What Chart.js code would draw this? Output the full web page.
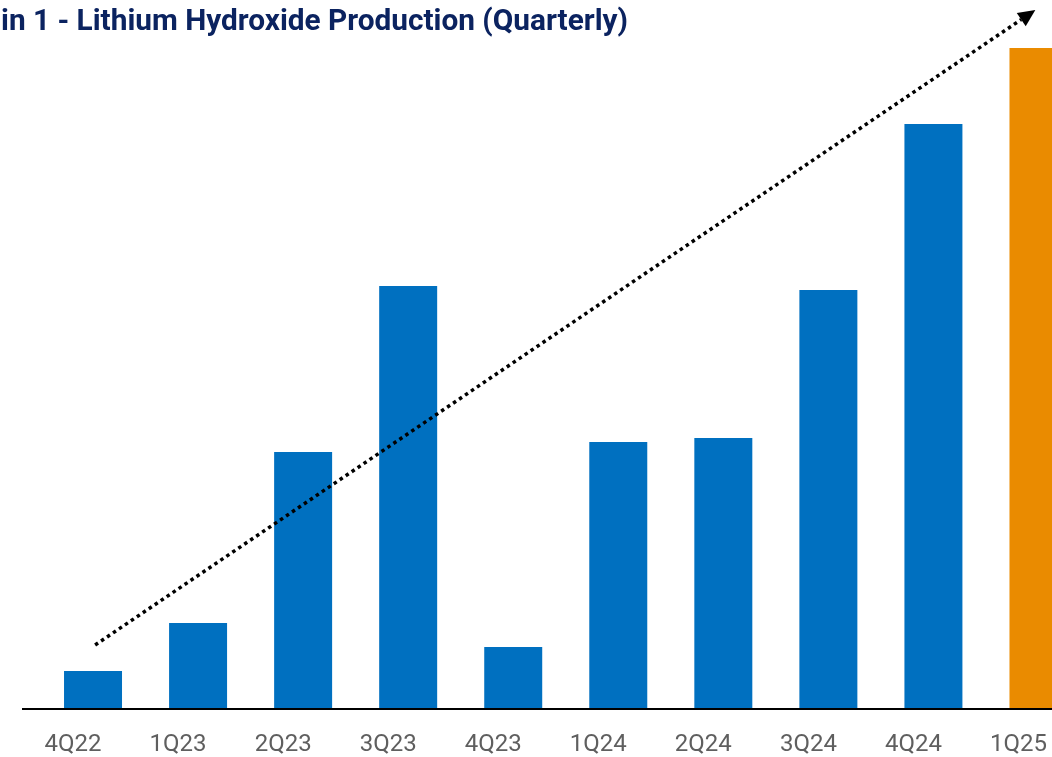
<!DOCTYPE html>
<html>
<head>
<meta charset="utf-8">
<script src="https://cdn.jsdelivr.net/npm/chart.js@4/dist/chart.umd.min.js"></script>
<style>
  html, body { margin: 0; padding: 0; overflow: hidden; background: #fff; width: 1052px; height: 757px; }
  #wrap { position: relative; width: 1091px; height: 757px; }
  #title { position: absolute; left: 1px; top: 2px; font-family: Roboto, "Liberation Sans", sans-serif; font-weight: 700; font-size: 30px; color: #0B2360; white-space: nowrap; transform-origin: 0 0; z-index: 2; line-height: 36px; }
</style>
</head>
<body>
<div id="wrap">
  <div id="title">in 1 - Lithium Hydroxide Production (Quarterly)</div>
  <canvas id="c" width="1091" height="757"></canvas>
</div>
<script>
const categories = ["4Q22", "1Q23", "2Q23", "3Q23", "4Q23", "1Q24", "2Q24", "3Q24", "4Q24", "1Q25"];
const production = [38, 86, 257, 423, 62, 267, 271, 419, 585, 661];
const barColors = ["#0070C0", "#0070C0", "#0070C0", "#0070C0", "#0070C0", "#0070C0", "#0070C0", "#0070C0", "#0070C0", "#EA8B00"];
const trendStart = [0.02, 64];
const trendEnd = [8.97, 699];
const yMax = 700;

// fit title width
(function () {
  const t = document.getElementById('title');
  const w = t.getBoundingClientRect().width;
  t.style.transform = 'scaleX(' + (627 / w) + ')';
})();

const overlay = {
  id: 'overlay',
  afterDatasetsDraw(chart) {
    const ctx = chart.ctx;
    const x = chart.scales.x, y = chart.scales.y;
    const base = y.getPixelForValue(0);
    // baseline
    ctx.save();
    ctx.strokeStyle = '#000';
    ctx.lineWidth = 2;
    ctx.beginPath();
    ctx.moveTo(22, base);
    ctx.lineTo(chart.width, base);
    ctx.stroke();
    // trend arrow
    const x0 = x.getPixelForValue(trendStart[0]), y0 = y.getPixelForValue(trendStart[1]);
    const x1 = x.getPixelForValue(trendEnd[0]), y1 = y.getPixelForValue(trendEnd[1]);
    const ang = Math.atan2(y1 - y0, x1 - x0);
    const headLen = 17, headW = 8;
    const bx = x1 - headLen * Math.cos(ang), by = y1 - headLen * Math.sin(ang);
    ctx.setLineDash([3.5, 3.7]);
    ctx.lineWidth = 3.5;
    ctx.lineCap = 'butt';
    ctx.beginPath();
    ctx.moveTo(x0, y0);
    ctx.lineTo(bx, by);
    ctx.stroke();
    ctx.setLineDash([]);
    ctx.fillStyle = '#000';
    ctx.beginPath();
    ctx.moveTo(x1, y1);
    ctx.lineTo(bx + headW * Math.sin(ang), by - headW * Math.cos(ang));
    ctx.lineTo(bx - headW * Math.sin(ang), by + headW * Math.cos(ang));
    ctx.closePath();
    ctx.fill();
    ctx.restore();
  }
};

new Chart(document.getElementById('c'), {
  type: 'bar',
  data: {
    labels: categories,
    datasets: [{
      data: production,
      backgroundColor: barColors,
      borderWidth: 0,
      categoryPercentage: 1,
      barPercentage: 0.552
    }]
  },
  options: {
    responsive: false,
    animation: false,
    events: [],
    layout: { padding: { top: 9, left: 0, right: 0, bottom: 0 } },
    plugins: { legend: { display: false }, tooltip: { enabled: false }, title: { display: false } },
    scales: {
      x: {
        grid: { display: false, drawTicks: false },
        border: { display: false },
        ticks: {
          color: '#5f5f5f',
          font: { family: 'Roboto, "Liberation Sans", sans-serif', size: 24 },
          padding: 22,
          labelOffset: -20,
          maxRotation: 0,
          autoSkip: false
        },
        afterFit(scale) { scale.height = 48; }
      },
      y: {
        min: 0,
        max: yMax,
        display: true,
        grid: { display: false, drawTicks: false },
        border: { display: false },
        ticks: { display: false },
        afterFit(scale) { scale.width = 40.5; }
      }
    }
  },
  plugins: [overlay]
});
</script>
</body>
</html>
